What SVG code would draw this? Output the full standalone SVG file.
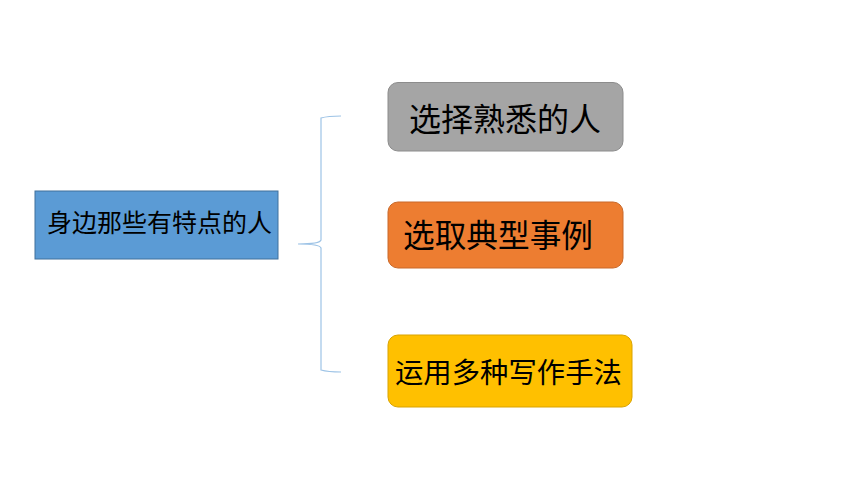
<svg xmlns="http://www.w3.org/2000/svg" width="860" height="484" viewBox="0 0 860 484">
<style>
text{font-family:"Noto Sans CJK SC","Noto Sans",sans-serif;fill:#000;dominant-baseline:central;}
</style>
<rect width="860" height="484" fill="#fff"/>
<g id="root">
<rect x="35" y="191" width="243" height="68" fill="#5B9BD5" stroke="#41719C" stroke-width="1"/>
<text x="47" y="220.5" font-size="25" textLength="225" lengthAdjust="spacingAndGlyphs">身边那些有特点的人</text>
</g>
<g id="connectors">
<path d="M341,116 Q328,116 321,118 L321,240 Q320,244 298,244 Q320,244 321,248 L321,370 Q328,372 341,372" fill="none" stroke="#9DC3E6" stroke-width="1.2"/>
</g>
<g id="n1">
<rect x="388" y="82.5" width="235" height="68.5" rx="10" fill="#A5A5A5" stroke="#8C8C8C"/>
<text x="409" y="116.5" font-size="32" textLength="192" lengthAdjust="spacingAndGlyphs">选择熟悉的人</text>
</g>
<g id="n2">
<rect x="388" y="202" width="235" height="66" rx="10" fill="#ED7D31" stroke="#C9692A"/>
<text x="403" y="232.5" font-size="32" textLength="190" lengthAdjust="spacingAndGlyphs">选取典型事例</text>
</g>
<g id="n3">
<rect x="388" y="335" width="244" height="72" rx="10" fill="#FFC000" stroke="#D9A300"/>
<text x="395" y="370.5" font-size="28.5" textLength="227" lengthAdjust="spacingAndGlyphs">运用多种写作手法</text>
</g>
</svg>
